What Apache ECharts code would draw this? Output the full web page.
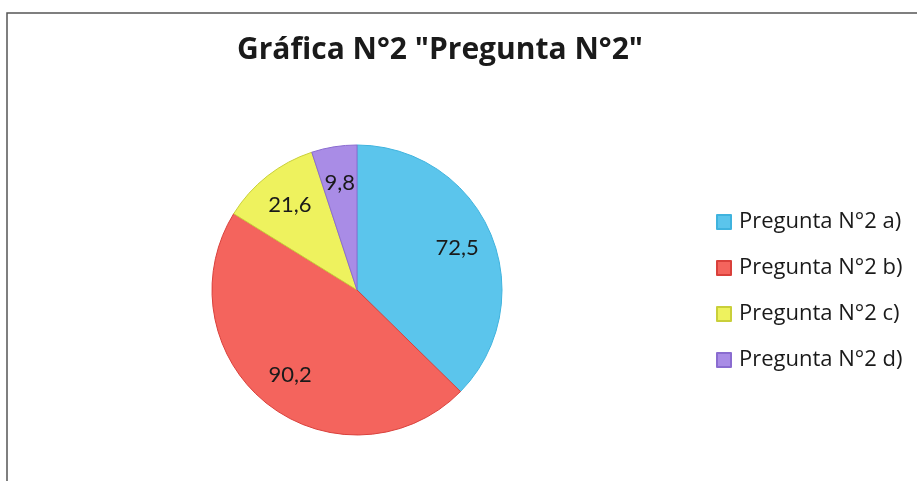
<!DOCTYPE html>
<html>
<head>
<meta charset="utf-8">
<script src="https://cdn.jsdelivr.net/npm/echarts@6/dist/echarts.min.js"></script>
<style>
  html, body { margin: 0; padding: 0; background: #fff; }
  #chart { width: 917px; height: 481px; }
</style>
</head>
<body>
<div id="chart"></div>
<script>
// datos de la gráfica
var categorias = ['Pregunta N°2 a)', 'Pregunta N°2 b)', 'Pregunta N°2 c)', 'Pregunta N°2 d)'];
var valores = [72.5, 90.2, 21.6, 9.8];
var colores = ['#5bc5ec', '#f4645d', '#eef25e', '#a98ce6'];
var bordes = ['#3fb3de', '#d9403b', '#c9cf3a', '#8a6cd0'];

var myChart = echarts.init(document.getElementById('chart'));

var datos = [];
var etiquetas = [];
for (var i = 0; i < categorias.length; i++) {
  datos.push({
    name: categorias[i],
    value: valores[i],
    itemStyle: { color: colores[i], borderColor: bordes[i], borderWidth: 1 }
  });
  etiquetas.push({ name: categorias[i], value: valores[i] });
}

var option = {
  color: colores,
  title: {
    text: 'Gráfica N°2 "Pregunta N°2"',
    left: 435,
    top: 30,
    textAlign: 'center',
    textStyle: {
      fontFamily: 'Open Sans',
      fontWeight: 'bold',
      fontSize: 30,
      color: '#1a1a1a'
    }
  },
  legend: {
    orient: 'vertical',
    left: 716,
    top: 211,
    padding: 0,
    itemWidth: 14,
    itemHeight: 14,
    itemGap: 24,
    icon: 'rect',
    data: categorias,
    textStyle: {
      fontFamily: 'Open Sans',
      fontSize: 22,
      lineHeight: 22,
      padding: [0, 0, 0, 3],
      color: '#1a1a1a'
    }
  },
  graphic: [{
    type: 'polyline',
    shape: { points: [[7, 490], [7, 13], [930, 13]] },
    style: { stroke: '#555', lineWidth: 1.5, fill: null },
    silent: true
  }],
  series: [{
    type: 'pie',
    center: [357, 290],
    radius: 145,
    startAngle: 90,
    clockwise: true,
    label: { show: false },
    labelLine: { show: false },
    emphasis: { disabled: true },
    data: datos
  }, {
    // capa solo para las etiquetas de valor
    type: 'pie',
    center: [357, 290],
    radius: [66, 145],
    startAngle: 90,
    clockwise: true,
    silent: true,
    itemStyle: { color: 'rgba(0,0,0,0)', borderWidth: 0 },
    label: {
      show: true,
      position: 'inside',
      fontFamily: 'Lato',
      fontSize: 22,
      color: '#1a1a1a',
      formatter: function (p) {
        return String(p.value).replace('.', ',');
      }
    },
    labelLine: { show: false },
    data: etiquetas
  }]
};
myChart.setOption(option);
</script>
</body>
</html>
